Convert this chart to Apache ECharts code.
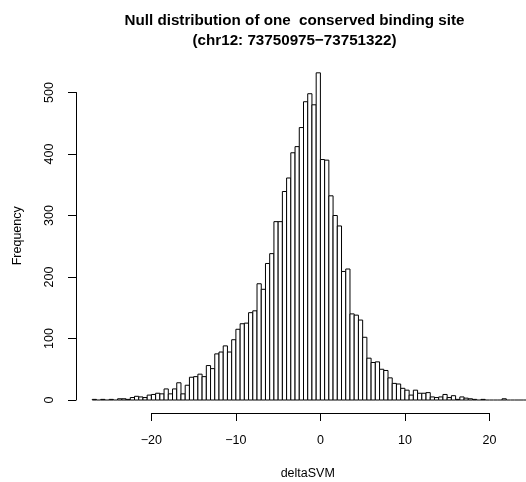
<!DOCTYPE html>
<html><head><meta charset="utf-8">
<script src="https://cdn.jsdelivr.net/npm/echarts@6/dist/echarts.min.js"></script>
<style>html,body{margin:0;padding:0;background:#fff}#c{width:526px;height:482px}</style>
</head><body><div id="c"></div>
<script>
const titleText = 'Null distribution of one  conserved binding site\n(chr12: 73750975\u221273751322)';
const xAxisName = 'deltaSVM';
const yAxisName = 'Frequency';
const binWidth = 0.5;
const binStarts = [
  -27,-26.5,-26,-25.5,-25,-24.5,-24,-23.5,-23,-22.5,
  -22,-21.5,-21,-20.5,-20,-19.5,-19,-18.5,-18,-17.5,
  -17,-16.5,-16,-15.5,-15,-14.5,-14,-13.5,-13,-12.5,
  -12,-11.5,-11,-10.5,-10,-9.5,-9,-8.5,-8,-7.5,
  -7,-6.5,-6,-5.5,-5,-4.5,-4,-3.5,-3,-2.5,
  -2,-1.5,-1,-0.5,0,0.5,1,1.5,2,2.5,
  3,3.5,4,4.5,5,5.5,6,6.5,7,7.5,
  8,8.5,9,9.5,10,10.5,11,11.5,12,12.5,
  13,13.5,14,14.5,15,15.5,16,16.5,17,17.5,
  18,18.5,19,19.5,20,20.5,21,21.5,22,22.5,
  23,23.5,24
];
const counts = [
  1,0,1,0,1,0,2,2,1,4,
  6,5,4,8,9,11,10,18,10,18,
  28,10,24,37,38,42,38,56,51,75,
  78,88,78,98,115,124,125,142,145,189,
  180,222,238,290,290,339,361,402,412,443,
  485,498,480,532,391,390,332,300,283,209,
  213,140,138,130,102,68,61,62,50,48,
  36,27,26,19,16,8,16,11,11,12,
  5,4,5,9,4,7,1,5,3,2,
  1,0,1,0,0,0,0,2,0,0,
  0,0,0
];
const xTicks = [-20, -10, 0, 10, 20];
const yTicks = [0, 100, 200, 300, 400, 500];

const FONT = '"Liberation Sans", Arial, Helvetica, sans-serif';
const minus = v => String(v).replace('-', '\u2212');
const hidden = {axisLine:{show:false}, axisTick:{show:false}, axisLabel:{show:false}, splitLine:{show:false}};

const chart = echarts.init(document.getElementById('c'), null, {renderer:'canvas'});
chart.setOption({
  animation: false,
  backgroundColor: '#fff',
  title: {
    text: titleText, left: 294.5, top: 11, textAlign: 'center', padding: 0,
    textStyle: {fontFamily: FONT, fontWeight: 'bold', fontSize: 15.2, color: '#000', lineHeight: 20}
  },
  grid: [
    {left: 75.35, width: 464.75, top: 58.675, height: 354.24, outerBoundsMode: 'none', containLabel: false},
    {left: 76, width: 100, top: 92.5, bottom: 82, outerBoundsMode: 'none', containLabel: false},
    {left: 151.4, width: 338, top: 100, bottom: 69, outerBoundsMode: 'none', containLabel: false}
  ],
  xAxis: [
    Object.assign({gridIndex: 0, type: 'value', min: -29, max: 26,
      name: xAxisName, nameLocation: 'middle', nameGap: 54,
      nameTextStyle: {fontFamily: FONT, fontSize: 12.5, color: '#000'}}, hidden),
    {gridIndex: 1, type: 'value', show: false, min: 0, max: 1},
    {gridIndex: 2, type: 'value', position: 'bottom', min: xTicks[0], max: xTicks[xTicks.length-1],
      interval: xTicks[1]-xTicks[0],
      axisLine: {show: true, onZero: false, lineStyle: {color: '#000', width: 1}},
      axisTick: {show: true, length: 8, lineStyle: {color: '#000', width: 1}},
      axisLabel: {margin: 21, fontFamily: FONT, fontSize: 12.5, color: '#000', formatter: minus},
      splitLine: {show: false}}
  ],
  yAxis: [
    Object.assign({gridIndex: 0, type: 'value', min: -21, max: 555,
      name: yAxisName, nameLocation: 'middle', nameGap: 51,
      nameTextStyle: {fontFamily: FONT, fontSize: 12.5, color: '#000'}}, hidden),
    {gridIndex: 1, type: 'value', position: 'left', min: yTicks[0], max: yTicks[yTicks.length-1],
      interval: yTicks[1]-yTicks[0],
      axisLine: {show: true, onZero: false, lineStyle: {color: '#000', width: 1}},
      axisTick: {show: true, length: 8, lineStyle: {color: '#000', width: 1}},
      axisLabel: {margin: 20, rotate: 90, fontFamily: FONT, fontSize: 12.5, color: '#000'},
      splitLine: {show: false}},
    {gridIndex: 2, type: 'value', show: false, min: 0, max: 1}
  ],
  series: [{
    type: 'custom',
    xAxisIndex: 0, yAxisIndex: 0,
    encode: {x: [0, 1], y: 2},
    data: binStarts.map((s, i) => [s, s + binWidth, counts[i]]),
    renderItem: function (params, api) {
      const p0 = api.coord([api.value(0), 0]);
      const p1 = api.coord([api.value(1), api.value(2)]);
      if (api.value(2) === 0) {
        return {type: 'line', shape: {x1: p0[0], y1: p0[1], x2: p1[0], y2: p0[1]},
          style: {stroke: '#000', lineWidth: 1}};
      }
      return {type: 'rect',
        shape: {x: p0[0], y: p1[1], width: p1[0] - p0[0], height: p0[1] - p1[1]},
        style: {fill: '#fff', stroke: '#000', lineWidth: 1}};
    }
  }]
});
</script>
</body></html>
